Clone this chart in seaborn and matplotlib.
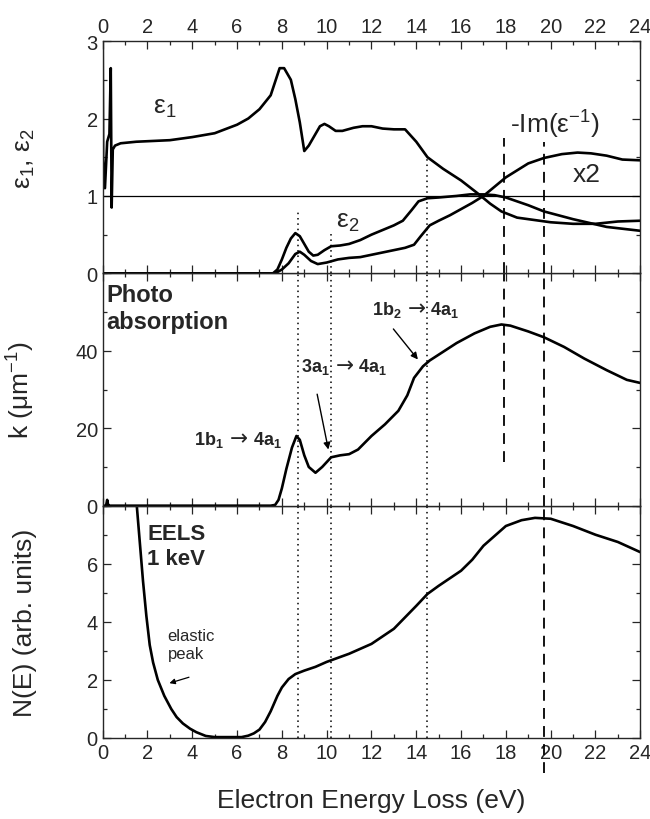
import numpy as np
import matplotlib
matplotlib.use("Agg")
import matplotlib.pyplot as plt
from matplotlib.ticker import MultipleLocator
import seaborn as sns

# ---------------- data ----------------
# top panel: dielectric function
eps1_x = [0.0, 0.02, 0.1, 0.2, 0.3, 0.36, 0.4, 0.45, 0.55, 0.8, 1.5, 3.0, 4.0, 5.0,
          6.0, 6.5, 7.0, 7.5, 7.9, 8.1, 8.4, 8.6, 8.8, 9.0, 9.2, 9.4, 9.7, 9.9, 10.1,
          10.4, 10.7, 11.2, 11.6, 12.0, 12.5, 13.0, 13.5, 14.0, 14.5, 15.2, 16.0,
          16.8, 17.3, 17.8, 18.5, 19.0, 20.0, 21.0, 22.0, 23.0, 24.0]
eps1_y = [3.0, 1.5, 1.1, 1.7, 1.8, 2.65, 0.85, 1.6, 1.65, 1.68, 1.7, 1.72, 1.76, 1.81,
          1.92, 2.0, 2.12, 2.3, 2.65, 2.65, 2.5, 2.25, 1.95, 1.58, 1.65, 1.75, 1.9, 1.93,
          1.9, 1.84, 1.84, 1.88, 1.9, 1.9, 1.87, 1.86, 1.86, 1.7, 1.5, 1.35, 1.2,
          1.02, 0.9, 0.8, 0.72, 0.7, 0.66, 0.64, 0.64, 0.67, 0.68]

eps2_x = [0.0, 7.6, 7.8, 8.0, 8.2, 8.4, 8.6, 8.8, 9.0, 9.2, 9.4, 9.6, 9.9, 10.2, 10.6,
          11.0, 11.5, 12.0, 12.5, 13.0, 13.4, 13.8, 14.1, 14.5, 15.0, 15.8, 16.4, 17.0,
          17.5, 18.0, 19.0, 19.7, 21.0, 22.5, 24.0]
eps2_y = [0.0, 0.0, 0.05, 0.18, 0.33, 0.45, 0.52, 0.48, 0.38, 0.28, 0.23, 0.24, 0.3,
          0.35, 0.36, 0.38, 0.43, 0.5, 0.56, 0.62, 0.68, 0.82, 0.93, 0.97, 0.98, 1.0,
          1.02, 1.02, 1.01, 0.98, 0.88, 0.8, 0.7, 0.6, 0.55]

loss_x = [0.0, 7.7, 8.0, 8.3, 8.6, 8.8, 9.0, 9.3, 9.6, 10.0, 10.5, 11.0, 11.5, 12.0,
          12.5, 13.0, 13.5, 13.9, 14.2, 14.6, 15.0, 15.5, 16.0, 16.5, 17.0, 17.5,
          18.0, 18.5, 19.0, 19.7, 20.5, 21.2, 21.8, 22.5, 23.2, 24.0]
loss_y = [0.0, 0.0, 0.05, 0.13, 0.25, 0.28, 0.24, 0.16, 0.12, 0.14, 0.18, 0.2, 0.21,
          0.24, 0.27, 0.3, 0.33, 0.37, 0.48, 0.62, 0.68, 0.75, 0.83, 0.91, 1.0, 1.12,
          1.24, 1.33, 1.42, 1.49, 1.54, 1.56, 1.55, 1.52, 1.47, 1.46]

# middle panel: photoabsorption k
k_x = [0.0, 0.15, 0.2, 0.25, 0.3, 7.5, 7.7, 7.85, 8.0, 8.2, 8.45, 8.65, 8.8, 9.0, 9.2,
       9.5, 9.8, 10.2, 10.6, 11.0, 11.4, 12.0, 12.6, 13.2, 13.6, 13.9, 14.3, 14.6,
       15.0, 15.8, 16.6, 17.3, 17.8, 18.2, 19.0, 19.7, 20.6, 21.5, 22.5, 23.4, 24.0]
k_y = [0.0, 0.0, 1.5, 0.0, 0.0, 0.0, 0.2, 1.5, 4.5, 9.5, 15.0, 18.0, 17.0, 13.0, 10.0,
       8.5, 10.0, 12.5, 13.0, 13.3, 14.5, 18.0, 21.0, 24.5, 28.5, 33.0, 36.0, 37.5,
       39.0, 42.0, 44.5, 46.2, 46.8, 46.5, 45.0, 43.5, 41.0, 38.0, 35.0, 32.5, 31.7]

# bottom panel: EELS spectrum
eels_x = [1.5, 1.65, 1.8, 1.95, 2.1, 2.25, 2.46, 2.75, 3.06, 3.3, 3.58, 3.9, 4.18,
          4.6, 5.0, 6.2, 6.5, 6.75, 7.0, 7.25, 7.5, 7.8, 8.0, 8.3, 8.6, 9.0, 9.5,
          10.0, 11.0, 12.0, 13.0, 14.0, 14.5, 15.0, 16.0, 16.5, 17.0, 18.0, 18.7,
          19.3, 20.0, 21.0, 22.0, 23.0, 24.0]
eels_y = [8.2, 6.8, 5.4, 4.2, 3.2, 2.6, 2.0, 1.45, 1.0, 0.72, 0.5, 0.32, 0.2,
          0.07, 0.03, 0.03, 0.08, 0.16, 0.29, 0.55, 0.92, 1.45, 1.74, 2.03, 2.2, 2.32,
          2.45, 2.62, 2.9, 3.24, 3.76, 4.55, 4.96, 5.24, 5.76, 6.14, 6.62, 7.3, 7.5,
          7.58, 7.55, 7.3, 7.0, 6.75, 6.4]

# transition energies (vertical markers)
dotted_x = [8.7, 10.2, 14.5]
dashed_x = [17.9, 19.7]

# transition labels: initial orbital, final orbital, label anchor (eV, k)
trans_from = ["1b$_\\mathbf{1}$", "3a$_\\mathbf{1}$", "1b$_\\mathbf{2}$"]
trans_to = ["4a$_\\mathbf{1}$", "4a$_\\mathbf{1}$", "4a$_\\mathbf{1}$"]
trans_pos = [(6.09, 16.0), (10.8, 34.8), (14.0, 49.4)]

# ---------------- figure ----------------
sns.set_style("ticks")
plt.rcParams["font.family"] = ["Liberation Sans", "DejaVu Sans"]
plt.rcParams["mathtext.fontset"] = "custom"
plt.rcParams["mathtext.rm"] = "Liberation Sans"
plt.rcParams["mathtext.it"] = "Liberation Sans:italic"
plt.rcParams["mathtext.bf"] = "Liberation Sans:bold"

fig = plt.figure(figsize=(6.5, 8.2), dpi=100)
left, width = 0.158, 0.827
h = 0.2833
ax3 = fig.add_axes([left, 0.0988, width, h])
ax2 = fig.add_axes([left, 0.0988 + h, width, h])
ax1 = fig.add_axes([left, 0.0988 + 2 * h, width, h])

lw = 1.9
dot = (0, (1, 2.5))
dash = (0, (6, 4))

for ax in (ax1, ax2, ax3):
    ax.set_xlim(0, 24)
    ax.xaxis.set_major_locator(MultipleLocator(2))
    ax.xaxis.set_minor_locator(MultipleLocator(1))
    ax.tick_params(which="both", direction="in", top=True, right=True,
                   labelsize=14.5, width=0.9)
    ax.tick_params(which="major", length=6)
    ax.tick_params(which="minor", length=3)
    for s in ax.spines.values():
        s.set_linewidth(1.0)

# ---- top panel ----
ax1.axhline(1, color="black", lw=0.9)
sns.lineplot(x=eps1_x, y=eps1_y, ax=ax1, color="black", lw=lw, sort=False)
sns.lineplot(x=eps2_x, y=eps2_y, ax=ax1, color="black", lw=lw, sort=False)
sns.lineplot(x=loss_x, y=loss_y, ax=ax1, color="black", lw=lw, sort=False)
ax1.set_ylim(0, 3)
ax1.yaxis.set_major_locator(MultipleLocator(1))
ax1.yaxis.set_minor_locator(MultipleLocator(0.5))
ax1.tick_params(labelbottom=False, labeltop=True)
ax1.set_ylabel("ε$_1$, ε$_2$", fontsize=19)
ax1.text(2.25, 2.15, "ε$_1$", fontsize=19, ha="left", va="center")
ax1.text(10.4, 0.68, "ε$_2$", fontsize=19, ha="left", va="center")
ax1.text(20.2, 1.93, "-Im(ε$^{-1}$)", fontsize=19, ha="center", va="center")
ax1.text(21.6, 1.28, "x2", fontsize=19, ha="center", va="center")
ax1.vlines(dotted_x, 0, [0.82, 0.53, 1.48], colors="black", lw=1.1, linestyles=dot)
ax1.vlines(dashed_x, 0, [1.75, 1.7], colors="black", lw=1.3, linestyles=dash)

# ---- middle panel ----
sns.lineplot(x=k_x, y=k_y, ax=ax2, color="black", lw=lw, sort=False)
ax2.set_ylim(0, 60)
ax2.yaxis.set_minor_locator(MultipleLocator(10))
ax2.set_yticks([0, 20, 40])
ax2.tick_params(labelbottom=False)
ax2.set_ylabel("k (μm$^{-1}$)", fontsize=19)
ax2.text(0.15, 57.5, "Photo\nabsorption", fontsize=17, fontweight="bold",
         ha="left", va="top", linespacing=1.2)
for a, b, (tx, ty) in zip(trans_from, trans_to, trans_pos):
    ax2.annotate("\u2192", (tx, ty), xytext=(0, 0), textcoords="offset points",
                 fontsize=15.5, family="DejaVu Sans", ha="center", va="baseline")
    ax2.annotate(a, (tx, ty), xytext=(-10.8, 0), textcoords="offset points",
                 fontsize=13, fontweight="bold", ha="right", va="baseline")
    ax2.annotate(b, (tx, ty), xytext=(10.0, 0), textcoords="offset points",
                 fontsize=13, fontweight="bold", ha="left", va="baseline")
ax2.annotate("", xy=(10.1, 13.8), xytext=(9.55, 29.5),
             arrowprops=dict(arrowstyle="-|>", color="black", lw=1.0,
                             mutation_scale=10))
ax2.annotate("", xy=(14.15, 37.2), xytext=(12.9, 46.2),
             arrowprops=dict(arrowstyle="-|>", color="black", lw=1.0,
                             mutation_scale=10))
ax2.vlines(dotted_x, 0, 60, colors="black", lw=1.1, linestyles=dot)
ax2.vlines(dashed_x, [11.4, 0], 60, colors="black", lw=1.3, linestyles=dash)

# ---- bottom panel ----
sns.lineplot(x=eels_x, y=eels_y, ax=ax3, color="black", lw=lw, sort=False)
ax3.set_ylim(0, 8)
ax3.yaxis.set_minor_locator(MultipleLocator(1))
ax3.set_yticks([0, 2, 4, 6])
ax3.set_ylabel("N(E) (arb. units)", fontsize=19)
ax3.set_xlabel("Electron Energy Loss (eV)", fontsize=19)
ax3.xaxis.set_label_coords(0.5, -0.215)
ax3.text(2.0, 7.4, "EELS\n1 keV", fontsize=16, fontweight="bold",
         ha="left", va="top", linespacing=1.25)
ax3.text(2.9, 3.8, "elastic\npeak", fontsize=12, ha="left", va="top",
         linespacing=1.3)
ax3.annotate("", xy=(2.86, 1.86), xytext=(3.97, 2.12),
             arrowprops=dict(arrowstyle="-|>", color="black", lw=0.9,
                             mutation_scale=8))
ax3.vlines(dotted_x, 0, 8, colors="black", lw=1.1, linestyles=dot)
ax3.vlines(dashed_x[1], -1.2, 8, colors="black", lw=1.3, linestyles=dash,
           clip_on=False)

for ax in (ax1, ax2, ax3):
    ax.yaxis.set_label_coords(-0.123, 0.5)

fig.savefig("out.png", dpi=100)
